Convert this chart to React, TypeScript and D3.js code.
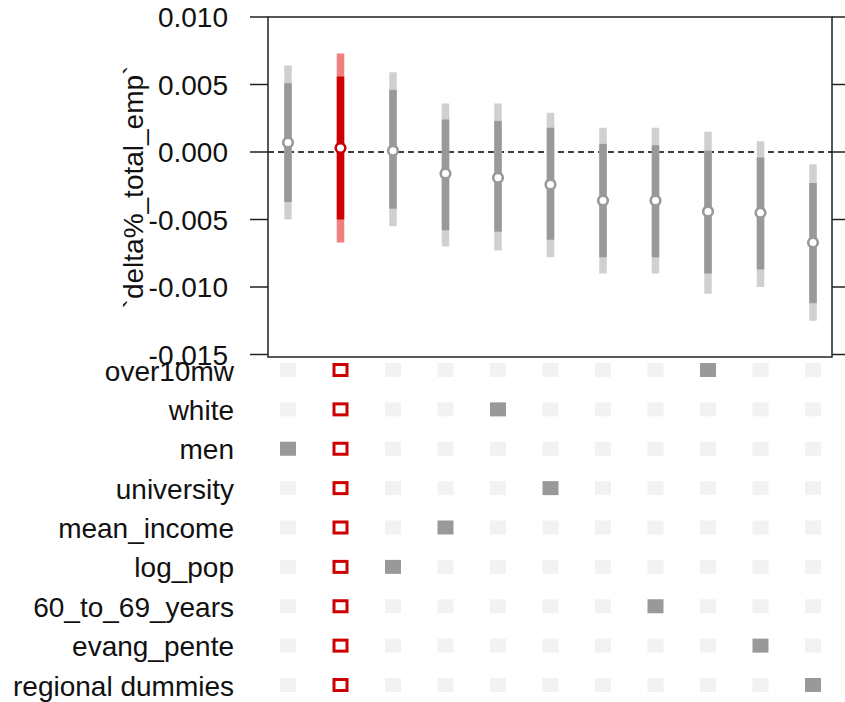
import React from "react";
import * as d3 from "d3";

// ---- data ----
const specIds = [1, 2, 3, 4, 5, 6, 7, 8, 9, 10, 11];
const estimate = [0.0007, 0.0003, 0.0001, -0.0016, -0.0019, -0.0024, -0.0036, -0.0036, -0.0044, -0.0045, -0.0067];
const innerLow = [-0.0037, -0.0050, -0.0042, -0.0058, -0.0059, -0.0065, -0.0078, -0.0078, -0.0090, -0.0087, -0.0112];
const innerHigh = [0.0051, 0.0056, 0.0046, 0.0024, 0.0023, 0.0018, 0.0006, 0.0005, 0.0001, -0.0004, -0.0023];
const outerLow = [-0.0050, -0.0067, -0.0055, -0.0070, -0.0073, -0.0078, -0.0090, -0.0090, -0.0105, -0.0100, -0.0125];
const outerHigh = [0.0064, 0.0073, 0.0059, 0.0036, 0.0036, 0.0029, 0.0018, 0.0018, 0.0015, 0.0008, -0.0009];
const controls = ["over10mw", "white", "men", "university", "mean_income", "log_pop", "60_to_69_years", "evang_pente", "regional dummies"];
// control used by each specification ("all" = every control, "none" = no control)
const specControl = ["men", "all", "log_pop", "mean_income", "white", "university", "none", "60_to_69_years", "over10mw", "evang_pente", "regional dummies"];
const highlightSpec = 2;
const yTicks = [0.010, 0.005, 0.0, -0.005, -0.010, -0.015];
const yTitle = "`delta%_total_emp`";

const FONT = "'Liberation Sans', Arial, sans-serif";
const FS = 28;

export default function App() {
  const W = 845, H = 702;
  const frame = { left: 268, right: 832, top: 17, bottom: 357 };
  const x = d3.scalePoint<number>().domain(specIds).range([288, 813]);
  const y = d3.scaleLinear().domain([-0.015, 0.010]).range([354.5, 17]);
  const row = d3.scalePoint<string>().domain(controls).range([370, 685]);

  const grey = { outer: "#d0d0d0", inner: "#999999", pt: "#999999" };
  const red = { outer: "#f08080", inner: "#cc0000", pt: "#cc0000" };

  return (
    <svg width={W} height={H} style={{ position: "absolute", left: 0, top: 0, background: "#fff" }}
      fontFamily={FONT}>
      {/* zero line */}
      <line x1={frame.left} x2={frame.right} y1={y(0)} y2={y(0)} stroke="#000" strokeWidth={1.5} strokeDasharray="6,4" />
      {/* intervals */}
      {specIds.map((s, i) => {
        const c = s === highlightSpec ? red : grey;
        const cx = x(s)!;
        return (
          <g key={s}>
            <line x1={cx} x2={cx} y1={y(outerLow[i])} y2={y(outerHigh[i])} stroke={c.outer} strokeWidth={7.5} />
            <line x1={cx} x2={cx} y1={y(innerLow[i])} y2={y(innerHigh[i])} stroke={c.inner} strokeWidth={7.5} />
            <circle cx={cx} cy={y(estimate[i])} r={4.8} fill="#fff" stroke={c.pt} strokeWidth={2.6} />
          </g>
        );
      })}
      {/* frame */}
      <rect x={frame.left} y={frame.top} width={frame.right - frame.left} height={frame.bottom - frame.top}
        fill="none" stroke="#222" strokeWidth={1.5} />
      {/* y axis left/right ticks */}
      {yTicks.map((t) => (
        <g key={t}>
          <line x1={250} x2={frame.left} y1={y(t)} y2={y(t)} stroke="#222" strokeWidth={1.5} />
          <line x1={frame.right} x2={W + 5} y1={y(t)} y2={y(t)} stroke="#222" strokeWidth={1.5} />
          <text x={228} y={y(t)} dy="0.37em" textAnchor="end" fontSize={FS} fill="#111">
            {Math.abs(t) < 1e-12 ? "0.000" : t.toFixed(3)}
          </text>
        </g>
      ))}
      <text transform={`translate(143,${(frame.top + frame.bottom) / 2}) rotate(-90)`} textAnchor="middle"
        fontSize={FS} fill="#111">{yTitle}</text>
      {/* control grid */}
      {controls.map((ctl) => {
        const ry = row(ctl)!;
        return (
          <g key={ctl}>
            <text x={234} y={ry} dy="0.375em" textAnchor="end" fontSize={FS} fill="#111">{ctl}</text>
            {specIds.map((s, i) => {
              const cx = x(s)!;
              if (specControl[i] === "all") {
                return <rect key={s} x={cx - 6.5} y={ry - 5.5} width={13} height={11} fill="#fff" stroke="#cc0000" strokeWidth={3} />;
              }
              const on = specControl[i] === ctl;
              return <rect key={s} x={cx - 8} y={ry - 7} width={16} height={14} fill={on ? "#999999" : "#f2f2f2"} />;
            })}
          </g>
        );
      })}
    </svg>
  );
}
